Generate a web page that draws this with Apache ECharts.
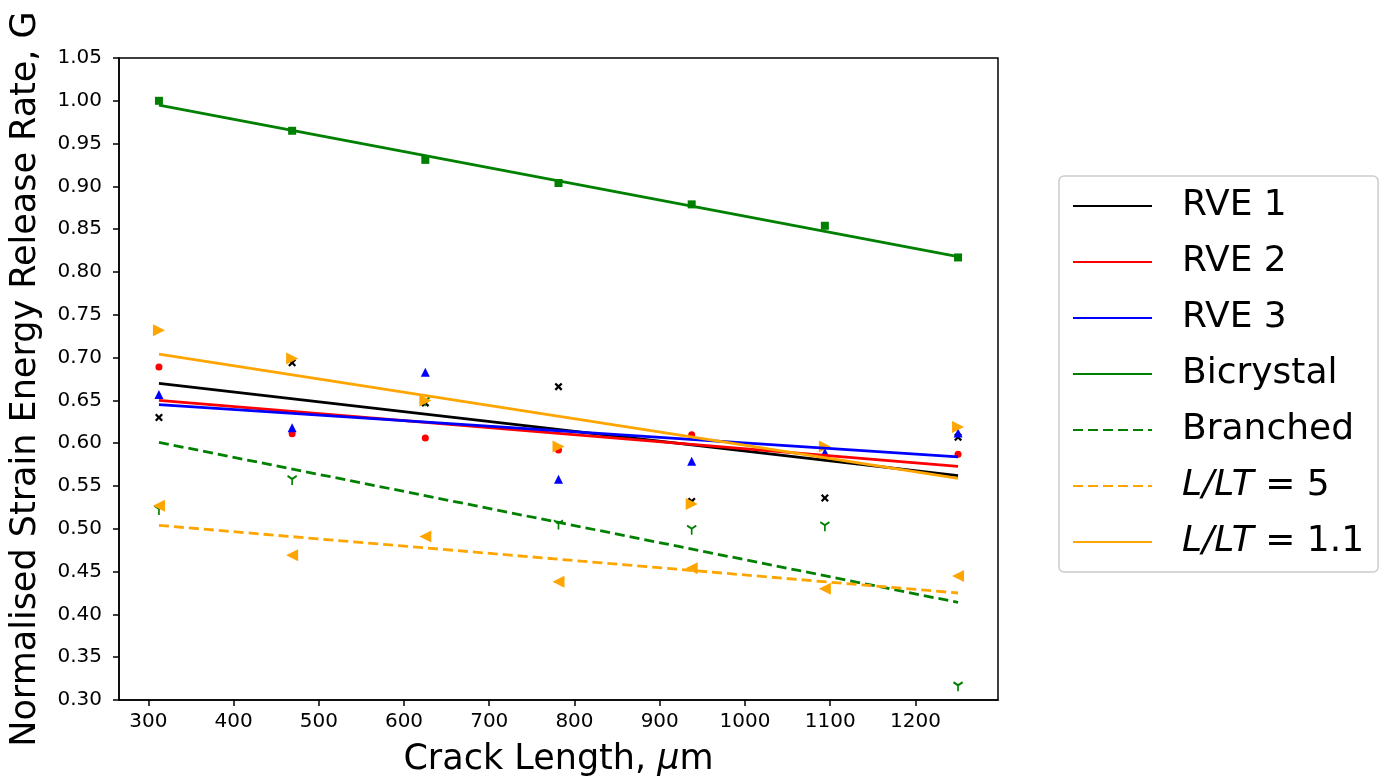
<!DOCTYPE html>
<html>
<head>
<meta charset="utf-8">
<title>Strain energy release rate</title>
<script src="https://cdn.jsdelivr.net/npm/echarts@6/dist/echarts.min.js"></script>
<style>
  html, body { margin: 0; padding: 0; background: #fff; }
  #chart { width: 1384px; height: 782px; }
</style>
</head>
<body>
<div id="chart"></div>
<script>
// crack lengths (um) and normalised G for every case
var crackLength = [312.5, 468.75, 625, 781.25, 937.5, 1093.75, 1250];
var rve1 = [0.630, 0.694, 0.647, 0.666, 0.532, 0.536, 0.607];
var rve2 = [0.689, 0.611, 0.606, 0.592, 0.610, 0.583, 0.587];
var rve3 = [0.657, 0.618, 0.683, 0.558, 0.579, 0.589, 0.612];
var bicrystal = [1.000, 0.965, 0.931, 0.904, 0.879, 0.854, 0.817];
var branched = [0.522, 0.557, 0.649, 0.505, 0.499, 0.503, 0.316];
var ltRatio5 = [0.527, 0.469, 0.491, 0.438, 0.454, 0.430, 0.445];
var ltRatio11 = [0.732, 0.699, 0.650, 0.596, 0.529, 0.596, 0.619];

// straight fit lines, value at first and last crack length
var fitX = [312.5, 1250];
var fitRve1 = [0.670, 0.562];
var fitRve2 = [0.650, 0.573];
var fitRve3 = [0.645, 0.584];
var fitBicrystal = [0.995, 0.818];
var fitBranched = [0.601, 0.414];
var fitLt5 = [0.504, 0.425];
var fitLt11 = [0.704, 0.559];

var xTicks = [300, 400, 500, 600, 700, 800, 900, 1000, 1100, 1200];
var yTicks = [0.30, 0.35, 0.40, 0.45, 0.50, 0.55, 0.60, 0.65, 0.70, 0.75, 0.80, 0.85, 0.90, 0.95, 1.00, 1.05];

var FONT = 'DejaVu Sans';
var pathX = 'path://M2,0 L5,3 L8,0 L10,2 L7,5 L10,8 L8,10 L5,7 L2,10 L0,8 L3,5 L0,2 Z';
var pathY = 'path://M0.2,3.3 L1.0,1.8 L5,4.1 L9.0,1.8 L9.8,3.3 L5.8,5.6 L5.8,10 L4.2,10 L4.2,5.6 Z';
var pathRight = 'path://M0,0 L10,5 L0,10 Z';
var pathLeft = 'path://M10,0 L0,5 L10,10 Z';

function pairs(xs, ys) {
  return xs.map(function (x, i) { return [x, ys[i]]; });
}

function points(name, values, color, symbol, size) {
  return {
    name: name,
    type: 'scatter',
    data: pairs(crackLength, values),
    symbol: symbol,
    symbolSize: size,
    itemStyle: { color: color, opacity: 1 },
    z: 2
  };
}

function fitLine(name, values, color, dashed) {
  return {
    name: name,
    type: 'line',
    data: pairs(fitX, values),
    symbol: 'none',
    showSymbol: false,
    lineStyle: { color: color, width: 2.8, type: dashed ? [10, 5] : 'solid' },
    itemStyle: { color: color },
    z: 3
  };
}

var legendNames = ['RVE 1', 'RVE 2', 'RVE 3', 'Bicrystal', 'Branched', 'L/LT = 5', 'L/LT = 1.1'];

var myChart = echarts.init(document.getElementById('chart'));
myChart.setOption({
  animation: false,
  backgroundColor: '#fff',
  grid: {
    left: 119, right: 386, top: 58, bottom: 81,
    show: true, borderColor: '#000', borderWidth: 1.5
  },
  legend: {
    data: legendNames,
    orient: 'vertical',
    left: 1059,
    top: 176,
    padding: [8, 14, 8, 13],
    itemWidth: 79,
    itemHeight: 14,
    itemGap: 12,
    selectedMode: false,
    borderColor: '#cccccc',
    borderWidth: 1.5,
    borderRadius: 5,
    backgroundColor: '#fff',
    itemStyle: { opacity: 0, borderWidth: 0 },
    formatter: function (name) {
      if (name.indexOf('L/LT') === 0) {
        return '{it|L/LT}' + name.slice(4);
      }
      return name;
    },
    textStyle: {
      fontFamily: FONT,
      fontSize: 36,
      lineHeight: 44,
      color: '#000',
      padding: [0, 0, 0, 25],
      rich: {
        it: { fontFamily: FONT, fontSize: 36, fontStyle: 'italic', color: '#000' }
      }
    }
  },
  xAxis: {
    type: 'value',
    min: 265.625,
    max: 1296.875,
    name: '{n|Crack Length, }{it|μ}{n|m}',
    nameLocation: 'middle',
    nameGap: 42,
    nameTextStyle: {
      rich: {
        n: { fontFamily: FONT, fontSize: 35, color: '#000' },
        it: { fontFamily: FONT, fontSize: 35, fontStyle: 'italic', color: '#000' }
      }
    },
    axisLine: { show: true, onZero: false, lineStyle: { color: '#000', width: 1.5 } },
    axisTick: { show: true, length: 6, lineStyle: { color: '#000', width: 1.5 }, customValues: xTicks },
    axisLabel: {
      color: '#000', fontFamily: FONT, fontSize: 20, margin: 12, customValues: xTicks,
      formatter: function (v) { return String(v); }
    },
    splitLine: { show: false }
  },
  yAxis: {
    type: 'value',
    min: 0.30,
    max: 1.05,
    name: 'Normalised Strain Energy Release Rate, G',
    nameLocation: 'middle',
    nameGap: 76,
    nameTextStyle: { fontFamily: FONT, fontSize: 35, color: '#000' },
    axisLine: { show: true, onZero: false, lineStyle: { color: '#000', width: 1.5 } },
    axisTick: { show: true, length: 6, lineStyle: { color: '#000', width: 1.5 }, customValues: yTicks },
    axisLabel: {
      color: '#000', fontFamily: FONT, fontSize: 20, margin: 17, customValues: yTicks,
      formatter: function (v) { return v.toFixed(2); }
    },
    splitLine: { show: false }
  },
  series: [
    points('RVE 1 data', rve1, '#000000', pathX, 8),
    points('RVE 2 data', rve2, '#ff0000', 'circle', 7),
    points('RVE 3 data', rve3, '#0000ff', 'triangle', 9),
    points('Bicrystal data', bicrystal, '#008000', 'rect', 8),
    points('Branched data', branched, '#008000', pathY, [10, 10]),
    points('L/LT = 5 data', ltRatio5, '#ffa500', pathLeft, 12),
    points('L/LT = 1.1 data', ltRatio11, '#ffa500', pathRight, 12),
    fitLine('RVE 1', fitRve1, '#000000', false),
    fitLine('RVE 2', fitRve2, '#ff0000', false),
    fitLine('RVE 3', fitRve3, '#0000ff', false),
    fitLine('Bicrystal', fitBicrystal, '#008000', false),
    fitLine('Branched', fitBranched, '#008000', true),
    fitLine('L/LT = 5', fitLt5, '#ffa500', true),
    fitLine('L/LT = 1.1', fitLt11, '#ffa500', false)
  ]
});
window.onresize = myChart.resize;
</script>
</body>
</html>
